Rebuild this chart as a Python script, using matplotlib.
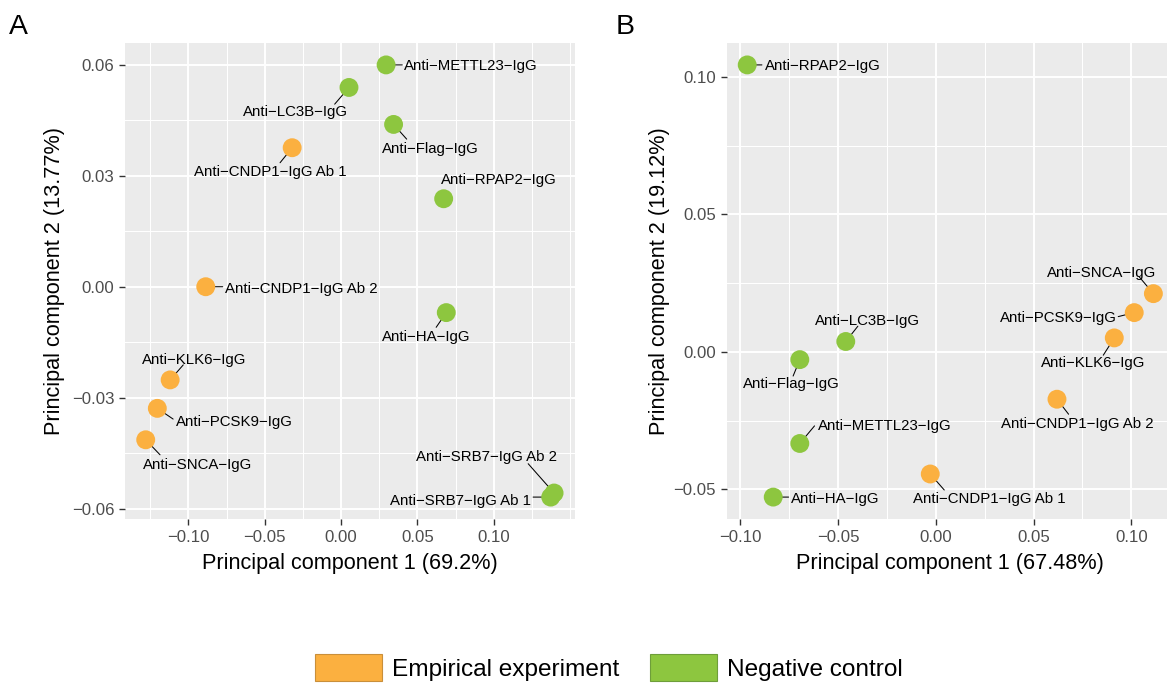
import matplotlib
matplotlib.use("Agg")
import matplotlib.pyplot as plt
from matplotlib.ticker import MultipleLocator, FixedLocator, FuncFormatter
from matplotlib.patches import Patch

plt.rcParams['font.family'] = ['Liberation Sans', 'DejaVu Sans']

EMP = "Empirical experiment"
NEG = "Negative control"

# ---- PCA scores, panel A -------------------------------------------------
antibodies_a = ["Anti-METTL23-IgG", "Anti-LC3B-IgG", "Anti-Flag-IgG",
                "Anti-CNDP1-IgG Ab 1", "Anti-RPAP2-IgG", "Anti-CNDP1-IgG Ab 2",
                "Anti-HA-IgG", "Anti-KLK6-IgG", "Anti-PCSK9-IgG",
                "Anti-SNCA-IgG", "Anti-SRB7-IgG Ab 2", "Anti-SRB7-IgG Ab 1"]
group_a = [NEG, NEG, NEG, EMP, NEG, EMP, NEG, EMP, EMP, EMP, NEG, NEG]
pc1_a = [0.0295, 0.0052, 0.0344, -0.0320, 0.0672, -0.0886,
         0.0689, -0.1119, -0.1203, -0.1279, 0.1395, 0.1373]
pc2_a = [0.0600, 0.0539, 0.0439, 0.0376, 0.0238, 0.0000,
         -0.0070, -0.0252, -0.0329, -0.0414, -0.0558, -0.0569]
var_a = (69.2, 13.77)
xticks_a = [-0.10, -0.05, 0.00, 0.05, 0.10]
yticks_a = [-0.06, -0.03, 0.00, 0.03, 0.06]

# ---- PCA scores, panel B -------------------------------------------------
antibodies_b = ["Anti-RPAP2-IgG", "Anti-SNCA-IgG", "Anti-PCSK9-IgG",
                "Anti-KLK6-IgG", "Anti-CNDP1-IgG Ab 2", "Anti-CNDP1-IgG Ab 1",
                "Anti-LC3B-IgG", "Anti-Flag-IgG", "Anti-METTL23-IgG",
                "Anti-HA-IgG"]
group_b = [NEG, EMP, EMP, EMP, EMP, EMP, NEG, NEG, NEG, NEG]
pc1_b = [-0.0964, 0.1113, 0.1015, 0.0913, 0.0620, -0.0028,
         -0.0460, -0.0695, -0.0695, -0.0831]
pc2_b = [0.1044, 0.0212, 0.0143, 0.0051, -0.0172, -0.0444,
         0.0038, -0.0028, -0.0333, -0.0528]
var_b = (67.48, 19.12)
xticks_b = [-0.10, -0.05, 0.00, 0.05, 0.10]
yticks_b = [-0.05, 0.00, 0.05, 0.10]

groups = [EMP, NEG]
palette = {EMP: "#FBB040", NEG: "#8DC63F"}
edges = {EMP: "#C98F3A", NEG: "#6E9E3A"}

# ---- label placement (pixel offsets from each point; screen y points down)
# (text dx, text dy, segment-start dx, segment-start dy or None)
layout_a = [(84.5, -0.2, 16.2, 0), (-53.2, 23, -14.3, 16.7), (36.5, 22.7, 13.1, 14.7),
            (-21.5, 23, -12.1, 15), (55.1, -19.8, None, None), (95.2, 0.7, 17, 0),
            (-20.5, 22.9, -10.1, 14.7), (24.1, -21.5, 13.1, -15), (76.6, 11.9, 15.8, 10.7),
            (51.4, 23.5, 14.3, 15), (-67.7, -37.1, -25.9, -29.3), (-89.9, 2.2, -17.6, 0)]
layout_b = [(75.3, -0.2, 14.7, 0), (-51.5, -22, -14, -16.6), (-76.3, 4, -16, 4),
            (-20.8, 23.6, -11, 17.3), (20.6, 23, 11.6, 15), (58.9, 23.8, 14, 16),
            (21.7, -21.6, 12.1, -15.3), (-8.3, 22.9, -6.7, 16.4), (84.8, -18.8, 14.7, -17.6),
            (61.8, 0.2, 15.4, 0)]

W, H = 1167, 684
fig = plt.figure(figsize=(W / 100, H / 100), dpi=100)

LABEL_PT = 10.85
CAP_SHIFT = 0.358 * LABEL_PT * 100 / 72  # cap centre -> baseline, in px


def fmt(v, _):
    s = f"{v:.2f}"
    if s == "-0.00":
        s = "0.00"
    return s.replace("-", "\u2212")


def panel(rect, names, grp, xs, ys, var, layout, xticks, yticks, xlab_y, ylab_x):
    ax = fig.add_axes(rect)
    ax.set_facecolor("#EBEBEB")
    for s in ax.spines.values():
        s.set_visible(False)
    cols = [palette[g] for g in grp]
    ax.scatter(xs, ys, s=185, c=cols, linewidths=0, zorder=4)
    ax.margins(0.05)
    ax.xaxis.set_major_locator(FixedLocator(xticks))
    ax.yaxis.set_major_locator(FixedLocator(yticks))
    ax.xaxis.set_minor_locator(MultipleLocator((xticks[1] - xticks[0]) / 2))
    ax.yaxis.set_minor_locator(MultipleLocator((yticks[1] - yticks[0]) / 2))
    ax.xaxis.set_major_formatter(FuncFormatter(fmt))
    ax.yaxis.set_major_formatter(FuncFormatter(fmt))
    ax.grid(which="major", color="white", lw=1.4, zorder=0)
    ax.grid(which="minor", color="white", lw=0.75, zorder=0)
    ax.set_axisbelow(True)
    ax.tick_params(which="major", length=4.0, width=1.0, color="#333333",
                   labelsize=12.1, labelcolor="#4D4D4D")
    ax.tick_params(axis="x", which="major", pad=4.3)
    ax.tick_params(axis="y", which="major", pad=3.9)
    ax.tick_params(which="minor", length=0)

    ax.set_xlabel(f"Principal component 1 ({var[0]}%)", fontsize=15.6, va="baseline")
    ax.set_ylabel(f"Principal component 2 ({var[1]}%)", fontsize=15.6, va="baseline")
    ax.xaxis.set_label_coords(0.5, xlab_y)
    ax.yaxis.set_label_coords(ylab_x, 0.5)

    for name, x, y, (tx, ty, sx, sy) in zip(names, xs, ys, layout):
        ax.annotate(name.replace("-", "\u2212"), xy=(x, y), xytext=(tx, -(ty + CAP_SHIFT)),
                    textcoords="offset pixels", ha="center", va="baseline",
                    fontsize=LABEL_PT, color="black", zorder=5)
        if sx is not None:
            ax.annotate("", xy=(x, y), xytext=(sx, -sy), textcoords="offset pixels",
                        arrowprops=dict(arrowstyle="-", color="black", lw=0.75,
                                        shrinkA=0, shrinkB=0),
                        zorder=3)
    return ax


bottom = (H - 518.7) / H
height = 475.4 / H
ax_a = panel([125.3 / W, bottom, 449.2 / W, height], antibodies_a, group_a,
             pc1_a, pc2_a, var_a, layout_a, xticks_a, yticks_a, -0.1064, -0.1454)
ax_b = panel([726.9 / W, bottom, 446.8 / W, height], antibodies_b, group_b,
             pc1_b, pc2_b, var_b, layout_b, xticks_b, yticks_b, -0.1064, -0.1385)

fig.text(9.4 / W, 1 - 34.3 / H, "A", fontsize=20.4, ha="left", va="baseline")
fig.text(615.4 / W, 1 - 34.3 / H, "B", fontsize=20.4, ha="left", va="baseline")

handles = [Patch(facecolor=palette[g], edgecolor=edges[g], linewidth=0.8, label=g)
           for g in groups]
fig.legend(handles=handles, loc="center", bbox_to_anchor=(609.2 / W, 1 - 667.5 / H),
           ncol=2, frameon=False, fontsize=17.6, handlelength=2.73, handleheight=1.31,
           handletextpad=0.42, columnspacing=1.25, borderpad=0, borderaxespad=0)

fig.savefig("out.png", dpi=100)
